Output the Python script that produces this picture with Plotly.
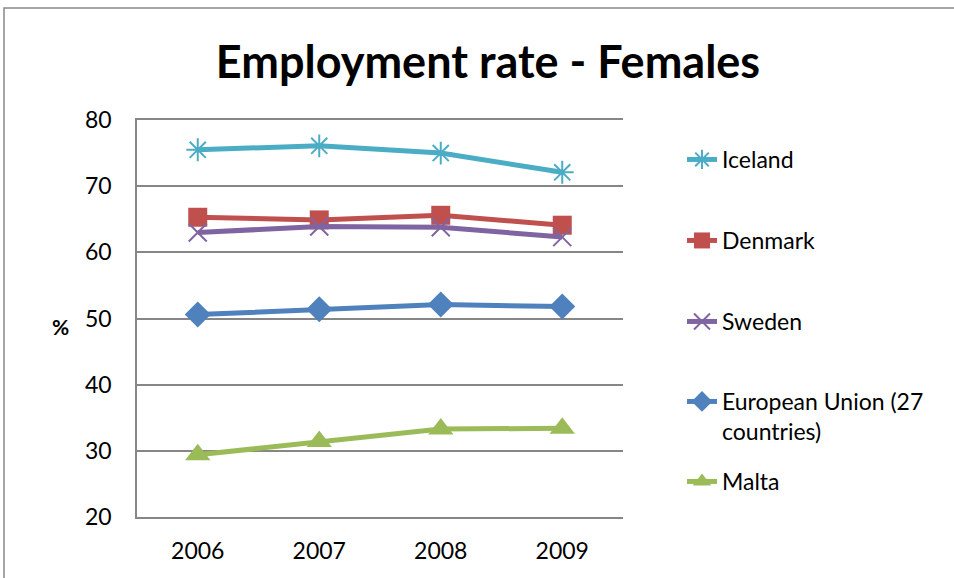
import plotly.graph_objects as go

years = ["2006", "2007", "2008", "2009"]
iceland = [75.5, 76.1, 75.0, 72.1]
denmark = [65.3, 64.9, 65.6, 64.1]
sweden = [63.0, 63.9, 63.8, 62.3]
eu27 = [50.6, 51.4, 52.1, 51.8]
malta = [29.4, 31.4, 33.3, 33.4]

y_ticks = [20, 30, 40, 50, 60, 70, 80]

series = [
    ("Iceland", iceland, "#4BACC6", "asterisk-open", 19),
    ("Denmark", denmark, "#C0504D", "square", 19),
    ("Sweden", sweden, "#8064A2", "x-thin-open", 18),
    ("European Union (27<br>countries)", eu27, "#4F81BD", "diamond", 20),
    ("Malta", malta, "#9BBB59", "triangle-up", 22),
]

L, R, T, B = 137, 623, 120, 517
W, H = 954, 578

# legend entry vertical positions (pixels, first text line)
legend_px = [155, 236, 317, 397, 477]

fig = go.Figure()
for i, (name, vals, color, sym, size) in enumerate(series):
    open_sym = sym.endswith("open")
    lg = "legend" if i == 0 else f"legend{i + 1}"
    fig.add_trace(go.Scatter(
        x=years, y=vals, name=name, mode="lines+markers",
        line=dict(color=color, width=5),
        marker=dict(symbol=sym, size=size, color=color,
                    line=dict(color=color, width=2 if open_sym else 0)),
        legend=lg,
    ))

legend_common = dict(font=dict(size=23), itemwidth=30, bgcolor="rgba(0,0,0,0)",
                     xanchor="left", yanchor="top", valign="top",
                     x=(682 - L) / (R - L))
legends = {}
for i, ypx in enumerate(legend_px):
    key = "legend" if i == 0 else f"legend{i + 1}"
    legends[key] = dict(legend_common, y=(B - (ypx - 17)) / (B - T))

fig.update_layout(
    width=W, height=H, autosize=False,
    margin=dict(l=L, r=W - R, t=T, b=H - B, pad=0),
    paper_bgcolor="white", plot_bgcolor="white",
    font=dict(family="Lato, sans-serif", size=23, color="black"),
    title=dict(text="<b>Employment rate - Females</b>", x=488 / W, xanchor="center",
               y=1 - 62 / H, yanchor="middle", font=dict(size=45)),
    showlegend=True,
    xaxis=dict(type="category", showgrid=False, showline=True, linecolor="#868686",
               linewidth=1.5, mirror=True, ticks="", tickfont=dict(size=23),
               range=[-0.5, 3.5], ticklabelstandoff=13),
    yaxis=dict(range=[20, 80], tickvals=y_ticks, showgrid=True, gridcolor="#868686",
               gridwidth=1.5, showline=True, linecolor="#868686", linewidth=1.5,
               ticks="", tickfont=dict(size=23), zeroline=False, ticklabelstandoff=19),
    **legends,
)

fig.add_annotation(text="<b>%</b>", xref="paper", yref="paper",
                   x=(60 - L) / (R - L), y=(B - 326) / (B - T),
                   showarrow=False, font=dict(size=21), xanchor="center", yanchor="middle")

fig.add_shape(type="rect", xref="paper", yref="paper",
              x0=(4 - L) / (R - L), x1=(W + 20 - L) / (R - L),
              y0=(B - (H + 20)) / (B - T), y1=(B - 8) / (B - T),
              line=dict(color="#888888", width=1.5), fillcolor="rgba(0,0,0,0)", layer="below")

fig.write_html("out.html", config={"displayModeBar": False},
               post_script="document.body.style.margin='0px';")
